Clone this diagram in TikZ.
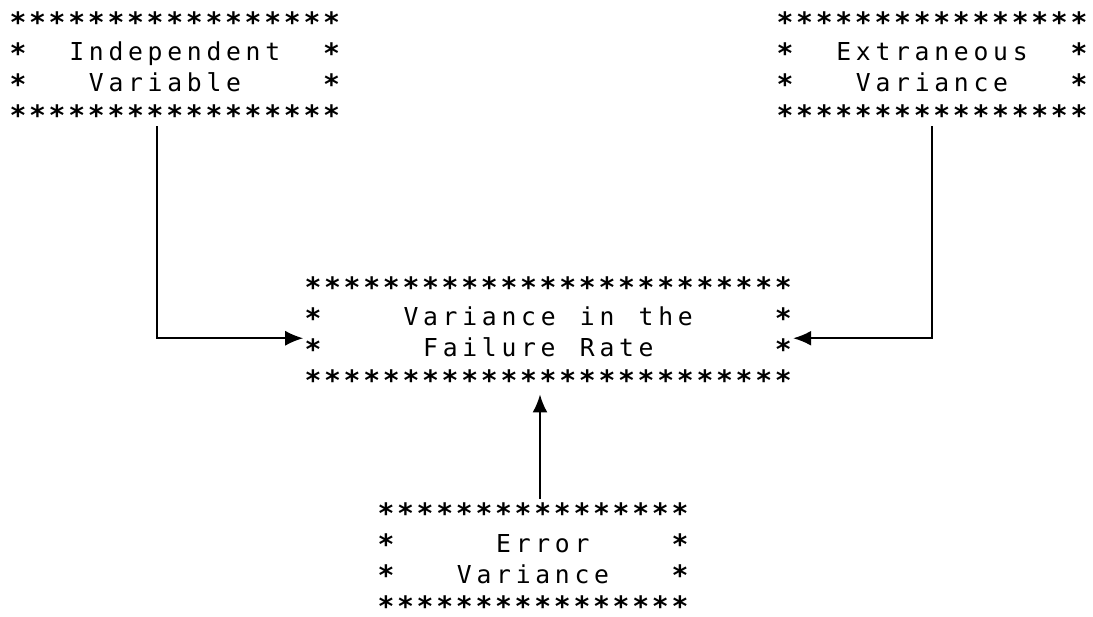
\documentclass[tikz,border=0pt]{standalone}
\usepackage{fontspec}
\usetikzlibrary{arrows.meta}
\newfontfamily\prt{DejaVu Sans Mono}
\newlength\cw \setlength\cw{19.6pt}
\makeatletter
\def\prtchars#1{\prt@a#1\relax}
\def\prt@a#1{\ifx\relax#1\else
  \ifx*#1\makebox[\cw]{\raisebox{-2.5pt}{\fontsize{28pt}{31pt}\selectfont\bfseries*}}\else\makebox[\cw]{#1}\fi
  \expandafter\prt@a\fi}
\makeatother
\newcommand\prow[1]{\hbox{\vrule height 22pt depth 9pt width 0pt\prtchars{#1}}}
\newcommand\prowlast[1]{\hbox{\vrule height 22pt depth 0pt width 0pt\prtchars{#1}}}
\newcommand\pbox[1]{\vbox{\offinterlineskip #1}}
\tikzset{
  starbox/.style={inner sep=0pt, outer sep=0pt, anchor=north west,
    font=\prt\fontsize{24.7pt}{31pt}\selectfont},
  conn/.style={line width=1.8pt, -{Latex[length=18pt,width=15pt]}}
}
\begin{document}
\begin{tikzpicture}[x=1pt,y=-1pt]
\useasboundingbox (0,0) rectangle (1093,617);
\node[starbox] (ind) at (8.2,8) {\pbox{%
  \prow{*****************}%
  \prow{*~~Independent~~*}%
  \prow{*~~~Variable~~~~*}%
  \prowlast{*****************}}};
\node[starbox] (ext) at (775.2,8) {\pbox{%
  \prow{****************}%
  \prow{*~~Extraneous~~*}%
  \prow{*~~~Variance~~~*}%
  \prowlast{****************}}};
\node[starbox] (mid) at (303.2,273) {\pbox{%
  \prow{*************************}%
  \prow{*~~~~Variance~in~the~~~~*}%
  \prow{*~~~~~Failure~Rate~~~~~~*}%
  \prowlast{*************************}}};
\node[starbox] (bot) at (376.2,499) {\pbox{%
  \prow{****************}%
  \prow{*~~~~~Error~~~~*}%
  \prow{*~~~Variance~~~*}%
  \prowlast{****************}}};
\coordinate (indout) at ([xshift=-18pt,yshift=-1pt]ind.south);
\coordinate (extout) at ([yshift=-1pt]ext.south);
\coordinate (botout) at ([xshift=7pt]bot.north);
\coordinate (midin) at ([yshift=-4pt]mid.south);
\draw[conn] (indout) |- ([yshift=-6.5pt]mid.west);
\draw[conn] (extout) |- ([yshift=-6.5pt]mid.east);
\draw[conn] (botout) -- (botout |- midin);
\end{tikzpicture}
\end{document}
